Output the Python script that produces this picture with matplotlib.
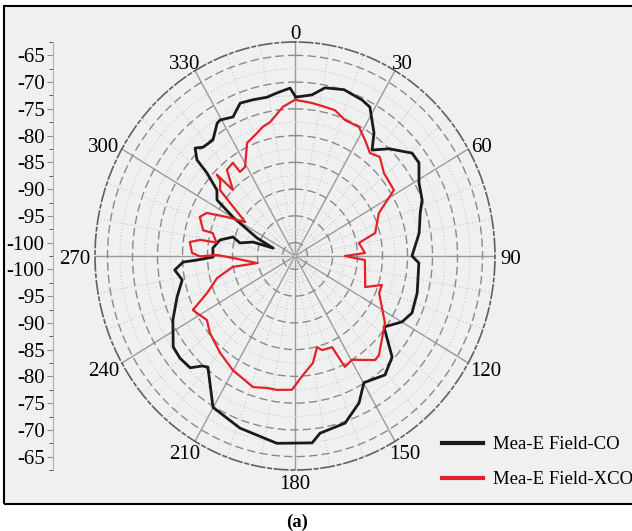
import matplotlib
matplotlib.use("Agg")
import matplotlib.pyplot as plt
import numpy as np
from matplotlib.patches import Rectangle

plt.rcParams['font.family'] = ['Liberation Serif', 'DejaVu Serif']

# measured E-field, co-polar (angle in deg, level in dB)
co_angle = [0.3, 6.4, 10.8, 17.5, 24.7, 28.3, 34.5, 37.9, 43.2, 50.6, 54.9, 61.2,
            67.6, 72.2, 80.2, 90.0, 93.0, 105.8, 114.5, 119.9, 126.7, 134.2, 141.0,
            149.8, 155.0, 162.2, 171.4, 174.4, 185.9, 198.9, 210.1, 220.0, 222.1,
            225.1, 230.3, 235.1, 243.9, 252.0, 258.8, 263.8, 267.1, 267.8, 269.3,
            275.2, 281.3, 286.0, 282.5, 287.2, 288.6, 293.9, 300.4, 303.9, 308.3,
            311.4, 312.5, 315.3, 317.9, 322.9, 327.9, 329.5, 334.5, 339.0, 343.9,
            349.3, 353.3, 358.2]
co_level = [-72.8, -72.2, -70.5, -69.9, -70.4, -70.9, -74.6, -77.4, -75.0, -72.2,
            -72.2, -74.2, -75.0, -76.2, -77.3, -79.1, -77.7, -77.1, -76.8, -77.8,
            -80.3, -75.4, -73.9, -75.1, -72.2, -69.7, -69.0, -67.4, -67.3, -68.5,
            -69.8, -75.4, -74.8, -72.9, -72.6, -72.8, -75.3, -77.7, -79.5, -78.3,
            -80.1, -82.9, -86.1, -86.0, -87.2, -89.6, -91.2, -93.7, -97.9, -94.2,
            -88.1, -83.7, -82.6, -79.0, -75.9, -74.1, -75.1, -75.3, -73.2, -73.0,
            -73.7, -71.9, -72.1, -72.3, -71.8, -71.1]

# measured E-field, cross-polar
xco_angle = [0.0, 6.8, 12.2, 16.3, 21.5, 27.9, 32.9, 37.9, 42.5, 48.9, 58.1, 64.4,
             75.0, 79.2, 87.7, 90.0, 93.1, 112.5, 107.3, 112.4, 124.8, 137.8, 140.5,
             149.6, 154.3, 156.5, 162.9, 165.5, 169.8, 175.9, 181.4, 188.2, 192.8,
             198.9, 210.2, 219.6, 229.7, 235.8, 243.7, 248.5, 255.2, 260.7, 260.1,
             268.3, 270.7, 269.8, 271.6, 277.1, 279.0, 279.1, 284.6, 284.7, 291.0,
             294.5, 298.2, 302.5, 309.4, 313.4, 314.2, 314.8, 319.8, 324.5, 325.0,
             329.0, 335.6, 341.7, 345.1, 348.7, 355.1]
xco_level = [-73.3, -73.7, -74.0, -74.1, -75.2, -75.2, -76.7, -78.1, -77.4, -78.9,
             -79.2, -83.9, -85.9, -89.5, -88.5, -92.5, -88.5, -87.3, -84.3, -84.3,
             -80.6, -77.5, -77.3, -80.0, -79.5, -83.9, -84.1, -84.9, -82.2, -80.2,
             -77.5, -77.2, -77.2, -76.6, -77.8, -79.0, -80.2, -81.2, -79.7, -83.6,
             -86.4, -89.9, -94.8, -90.1, -86.9, -83.5, -81.9, -81.3, -83.3, -86.6,
             -85.5, -83.5, -82.1, -83.1, -87.1, -90.7, -83.1, -81.9, -80.7, -85.0,
             -81.4, -81.1, -83.3, -83.1, -79.3, -78.3, -77.5, -77.0, -74.5]

ring_levels = [-100, -95, -90, -85, -80, -75, -70, -65]
scale_labels = ['-65', '-70', '-75', '-80', '-85', '-90', '-95', '-100']
angle_labels = [0, 30, 60, 90, 120, 150, 180, 210, 240, 270, 300, 330]

r_min, r_max = -102.5, -62.5
W, H = 632, 531
FS = 15

fig = plt.figure(figsize=(W / 100, H / 100), dpi=100)
fig.patch.set_facecolor('white')

# grey panel behind everything, black frame on top
panel = Rectangle((4 / W, 1 - 504 / H), 1.0, 498 / H, transform=fig.transFigure,
                  facecolor='#f0f0f0', edgecolor='none', zorder=-5)
frame = Rectangle((4 / W, 1 - 504 / H), 1.0, 498 / H, transform=fig.transFigure,
                  facecolor='none', edgecolor='black', lw=1.5, zorder=10)
fig.add_artist(panel)
fig.add_artist(frame)

ax = fig.add_axes([95 / W, 1 - 470 / H, 400 / W, 428 / H], projection='polar')
ax.set_aspect('auto')
ax.set_facecolor('#f0f0f0')
ax.set_theta_zero_location('N')
ax.set_theta_direction(-1)
ax.set_rlim(r_min, r_max)

ax.set_xticks(np.radians(angle_labels))
ax.set_xticklabels([])
ax.set_xticks(np.radians(np.arange(0, 360, 10)), minor=True)
ax.set_yticks(ring_levels)
ax.set_yticks(np.array(ring_levels) - 2.5, minor=True)
ax.set_yticklabels([])
ax.xaxis.grid(True, which='major', color='#9a9a9a', lw=1.0, ls='-')
ax.xaxis.grid(True, which='minor', color='#c8c8c8', lw=0.8, ls=(0, (1, 2)))
ax.yaxis.grid(True, which='major', color='#8a8a8a', lw=1.0, ls=(0, (6, 3)))
ax.yaxis.grid(True, which='minor', color='#c8c8c8', lw=0.8, ls=(0, (1, 2)))
ax.spines['polar'].set_color('#606060')
ax.spines['polar'].set_linestyle((0, (8, 2, 2, 2)))
ax.spines['polar'].set_linewidth(1.2)

# angle labels just outside the rim, pushed out by half their size
for a in angle_labels:
    t = np.radians(a)
    s = str(a)
    hw = len(s) * 0.25 * FS
    hh = 0.33 * FS
    gap = 3.5
    ax.annotate(s, xy=(t, r_max),
                xytext=(np.sin(t) * (gap + hw), np.cos(t) * (gap + hh - 0.7) - 2.6),
                textcoords='offset points', ha='center', va='center', fontsize=FS,
                annotation_clip=False)

th_co = np.radians(np.append(co_angle, co_angle[0]))
r_co = np.append(co_level, co_level[0])
th_x = np.radians(np.append(xco_angle, xco_angle[0]))
r_x = np.append(xco_level, xco_level[0])
l1, = ax.plot(th_co, r_co, color='#1a1a1a', lw=2.0, label='Mea-E Field-CO')
l2, = ax.plot(th_x, r_x, color='#e32228', lw=1.6, label='Mea-E Field-XCO')

# mirrored level scale on the left
sax = fig.add_axes([53 / W, 1 - 470 / H, 0.001, 428 / H])
sax.set_facecolor('none')
for s in ['right', 'top', 'bottom']:
    sax.spines[s].set_visible(False)
sax.spines['left'].set_color('#b0b0b0')
sax.set_xticks([])
sax.set_ylim(-(r_max - r_min), r_max - r_min)
top_pos = [float(v) - r_min for v in scale_labels]
bot_pos = [-p for p in top_pos]
sax.set_yticks(top_pos + bot_pos)
sax.set_yticklabels(scale_labels + scale_labels, fontsize=FS)
sax.set_yticks(np.arange(-40, 41, 5), minor=True)
sax.tick_params(axis='y', which='major', length=4, color='#909090', pad=2)
sax.tick_params(axis='y', which='minor', length=3, color='#404040')

fig.legend(handles=[l1, l2], loc='upper left', bbox_to_anchor=(442 / W, 1 - 436 / H),
           frameon=False, fontsize=13.5, handlelength=2.2, handletextpad=0.5,
           labelspacing=0.95, borderpad=0, borderaxespad=0)
for h in fig.legends[0].legend_handles:
    h.set_linewidth(3)

fig.text(297 / W, 1 - 522 / H, '(a)', fontsize=13.5, fontweight='bold',
         ha='center', va='center')

fig.savefig('out.png', dpi=100, facecolor=fig.get_facecolor())
